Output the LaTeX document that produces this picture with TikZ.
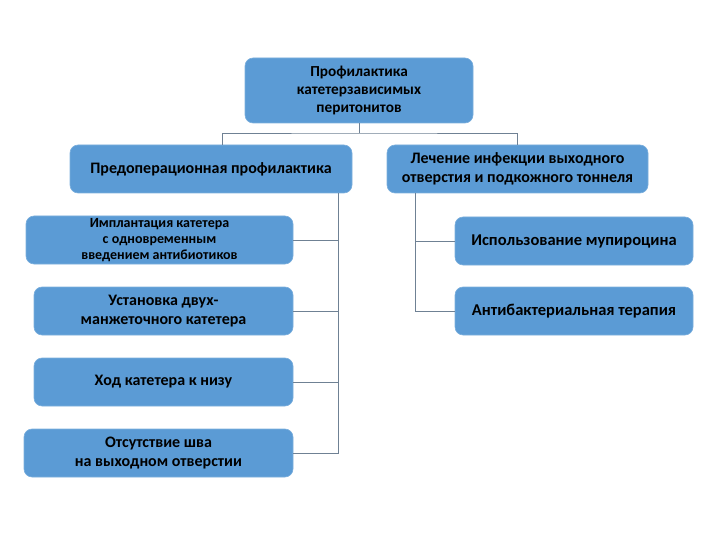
\documentclass[tikz,border=0pt]{standalone}
\usepackage{fontspec}
\setmainfont{Carlito}
\definecolor{boxblue}{HTML}{5B9BD5}
\definecolor{linec}{HTML}{6F8194}
\begin{document}
\begin{tikzpicture}[x=1pt,y=-1pt,
  box/.style={rectangle, rounded corners=8pt, fill=boxblue, draw=boxblue!80!white, line width=0.6pt,
    align=center, font=\bfseries\fontsize{16}{19}\selectfont, text=black, inner sep=0pt},
  conn/.style={draw=linec, line width=0.8pt}]
\useasboundingbox (0,0) rectangle (720,540);
\node[box, minimum width=228pt, minimum height=65pt, font=\bfseries\fontsize{15.3}{18}\selectfont] (top) at (359,90.5)
  {Профилактика\\катетерзависимых\\перитонитов};
\node[box, minimum width=282pt, minimum height=48pt] (pre) at (211,169)
  {Предоперационная профилактика};
\node[box, minimum width=261pt, minimum height=48pt, font=\bfseries\fontsize{16}{18.5}\selectfont] (trt) at (517.5,169)
  {Лечение инфекции выходного\\отверстия и подкожного тоннеля};
\node[box, minimum width=267pt, minimum height=48pt, font=\bfseries\fontsize{14}{16}\selectfont] (c1) at (159.5,240)
  {Имплантация катетера\\с одновременным\\введением антибиотиков};
\node[box, minimum width=259pt, minimum height=48pt] (c2) at (163.5,311)
  {Установка двух-\\манжеточного катетера};
\node[box, minimum width=259pt, minimum height=48pt] (c3) at (163.5,382)
  {Ход катетера к низу};
\node[box, minimum width=269pt, minimum height=48pt] (c4) at (158.5,453)
  {Отсутствие шва\\на выходном отверстии};
\node[box, minimum width=238pt, minimum height=48pt, font=\bfseries\fontsize{16.5}{19}\selectfont] (r1) at (574,241)
  {Использование мупироцина};
\node[box, minimum width=238pt, minimum height=48pt, font=\bfseries\fontsize{16.5}{19}\selectfont] (r2) at (574,311)
  {Антибактериальная терапия};
% connectors
\coordinate (j) at (359,133);
\coordinate (lv) at (338,193);
\coordinate (rv) at (415,193);
\draw[conn] (top.south) -- (j);
\draw[conn] (pre.north -| 222,0) |- (j) -| (trt.north);
\draw[conn] (lv) |- (c4.east);
\draw[conn] (c1.east) -- (c1.east -| lv);
\draw[conn] (c2.east) -- (c2.east -| lv);
\draw[conn] (c3.east) -- (c3.east -| lv);
\draw[conn] (rv) |- (r2.west);
\draw[conn] (r1.west) -- (r1.west -| rv);
\end{tikzpicture}
\end{document}
